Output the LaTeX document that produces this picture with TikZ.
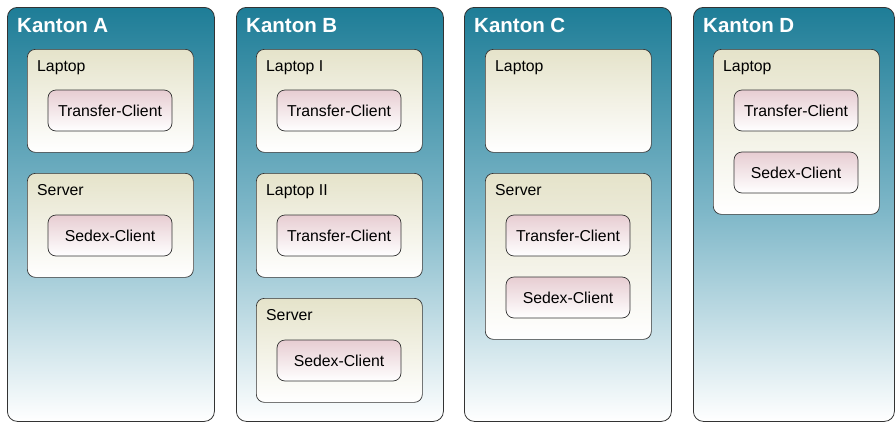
\documentclass[tikz,border=0pt]{standalone}
\usepackage{fontspec}
\setmainfont{Liberation Sans}
\begin{document}
\begin{tikzpicture}[x=1pt,y=-1pt,
  kanton/.style={draw=black!80, line width=0.8pt, rounded corners=10pt, inner sep=0pt,
    top color={rgb,255:red,30;green,125;blue,151}, bottom color=white, middle color={rgb,255:red,128;green,184;blue,201},
    minimum width=207pt, minimum height=414pt, anchor=north west},
  host/.style={draw=black!80, line width=0.7pt, rounded corners=8pt, inner sep=0pt,
    top color={rgb,255:red,229;green,227;blue,202}, bottom color=white,
    minimum width=166pt, anchor=north west},
  client/.style={draw=black!80, line width=0.7pt, rounded corners=8pt, inner sep=0pt,
    top color={rgb,255:red,231;green,205;blue,210}, bottom color=white,
    minimum width=124pt, minimum height=41pt, font=\fontsize{15.8}{18}\selectfont},
  ktitle/.style={anchor=base west, inner sep=0pt, text=white, font=\fontsize{20.5}{24}\selectfont\bfseries},
  htitle/.style={anchor=base west, inner sep=0pt, font=\fontsize{15.8}{18}\selectfont}
]
\useasboundingbox (0,0) rectangle (895,421);
\begin{scope}
\clip (0,0) rectangle (895,421);
% Kanton boxes
\node[kanton] (KA) at (7,7) {};
\node[kanton] (KB) at (236,7) {};
\node[kanton] (KC) at (464,7) {};
\node[kanton, minimum width=201pt] (KD) at (693,7) {};
\end{scope}
\node[ktitle] (tA) at (17,32) {Kanton A};
\node[ktitle] (tB) at (246,32) {Kanton B};
\node[ktitle] (tC) at (474,32) {Kanton C};
\node[ktitle] (tD) at (703,32) {Kanton D};

% Kanton A
\node[host, minimum height=103pt] (A1) at (27,49) {};
\node[htitle] (A1t) at (37,71) {Laptop};
\node[client] (A1c) at (110,110.5) {Transfer-Client};
\node[host, minimum height=104pt] (A2) at (27,173) {};
\node[htitle] (A2t) at (37,195) {Server};
\node[client] (A2c) at (110,235.5) {Sedex-Client};

% Kanton B
\node[host, minimum height=103pt] (B1) at (256,49) {};
\node[htitle] (B1t) at (266,71) {Laptop I};
\node[client] (B1c) at (339,110.5) {Transfer-Client};
\node[host, minimum height=104pt] (B2) at (256,173) {};
\node[htitle] (B2t) at (266,195) {Laptop II};
\node[client] (B2c) at (339,235.5) {Transfer-Client};
\node[host, minimum height=104pt] (B3) at (256,298) {};
\node[htitle] (B3t) at (266,320) {Server};
\node[client] (B3c) at (339,360.5) {Sedex-Client};

% Kanton C
\node[host, minimum height=103pt] (C1) at (485,49) {};
\node[htitle] (C1t) at (495,71) {Laptop};
\node[host, minimum height=166pt] (C2) at (485,173) {};
\node[htitle] (C2t) at (495,195) {Server};
\node[client] (C2c) at (568,235.5) {Transfer-Client};
\node[client] (C2d) at (568,297.5) {Sedex-Client};

% Kanton D
\node[host, minimum height=165pt] (D1) at (713,49) {};
\node[htitle] (D1t) at (723,71) {Laptop};
\node[client] (D1c) at (796,110.5) {Transfer-Client};
\node[client] (D1d) at (796,172.5) {Sedex-Client};
\end{tikzpicture}
\end{document}
